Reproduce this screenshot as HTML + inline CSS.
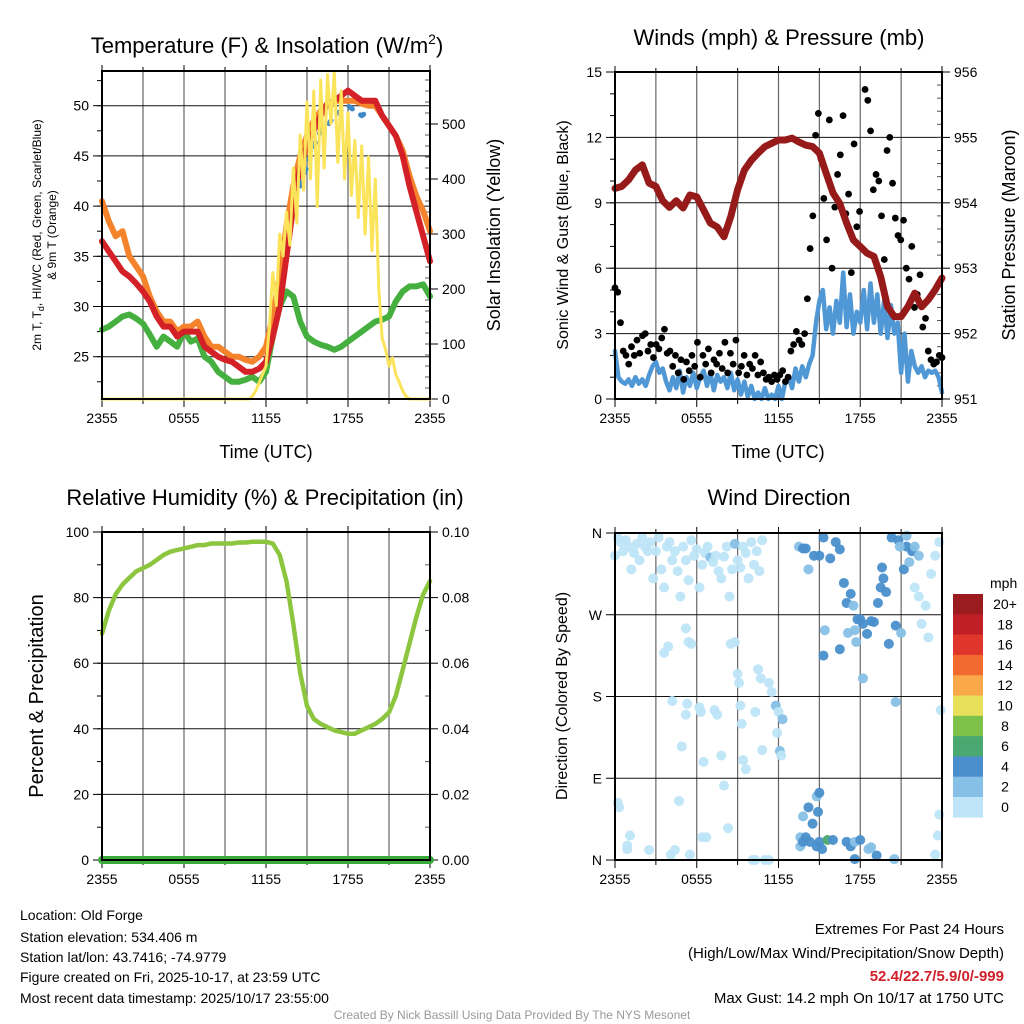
<!DOCTYPE html>
<html><head><meta charset="utf-8"><style>
html,body{margin:0;padding:0;background:#fff;}
svg{display:block;font-family:"Liberation Sans",Arial,sans-serif;}
</style></head><body>
<svg id="fig" width="1024" height="1024" viewBox="0 0 1024 1024">
<rect x="0" y="0" width="1024" height="1024" fill="#fff"/>
<text x="267" y="53" font-size="22" text-anchor="middle">Temperature (F) &amp; Insolation (W/m<tspan font-size="14" dy="-9">2</tspan><tspan dy="9">)</tspan></text>
<text x="779" y="45" font-size="22" text-anchor="middle">Winds (mph) &amp; Pressure (mb)</text>
<text x="265" y="505" font-size="22" text-anchor="middle">Relative Humidity (%) &amp; Precipitation (in)</text>
<text x="779" y="505" font-size="22" text-anchor="middle">Wind Direction</text>

<text x="266" y="458" font-size="18" text-anchor="middle">Time (UTC)</text>
<text x="778" y="458" font-size="18" text-anchor="middle">Time (UTC)</text>
<text transform="translate(41,235) rotate(-90)" font-size="12" text-anchor="middle">2m T, T<tspan font-size="9" dy="3">d</tspan><tspan dy="-3">, HI/WC (Red, Green, Scarlet/Blue)</tspan></text>
<text transform="translate(56,235) rotate(-90)" font-size="12" text-anchor="middle">&amp; 9m T (Orange)</text>
<text transform="translate(500,235) rotate(-90)" font-size="18" text-anchor="middle">Solar Insolation (Yellow)</text>
<text transform="translate(568,235) rotate(-90)" font-size="16" text-anchor="middle">Sonic Wind &amp; Gust (Blue, Black)</text>
<text transform="translate(1015,235) rotate(-90)" font-size="18" text-anchor="middle">Station Pressure (Maroon)</text>
<text transform="translate(43,696) rotate(-90)" font-size="20" text-anchor="middle">Percent &amp; Precipitation</text>
<text transform="translate(567,696) rotate(-90)" font-size="16" text-anchor="middle">Direction (Colored By Speed)</text>

<g font-size="14">
<text x="20" y="920">Location: Old Forge</text>
<text x="20" y="942">Station elevation: 534.406 m</text>
<text x="20" y="962">Station lat/lon: 43.7416; -74.9779</text>
<text x="20" y="982">Figure created on Fri, 2025-10-17, at 23:59 UTC</text>
<text x="20" y="1003">Most recent data timestamp: 2025/10/17 23:55:00</text>
</g>
<g font-size="15" text-anchor="end">
<text x="1004" y="934">Extremes For Past 24 Hours</text>
<text x="1004" y="958">(High/Low/Max Wind/Precipitation/Snow Depth)</text>
<text x="1004" y="981" fill="#d0202a" font-weight="bold">52.4/22.7/5.9/0/-999</text>
<text x="1004" y="1003">Max Gust: 14.2 mph On 10/17 at 1750 UTC</text>
</g>
<text x="512" y="1019" font-size="12" fill="#999" text-anchor="middle">Created By Nick Bassill Using Data Provided By The NYS Mesonet</text>
</svg>
<script>
// ---------- data ----------
const timeLabels = ["2355","0555","1155","1755","2355"];
const tempRed = [36.5,35.5,34.5,33.5,33,32.3,31.5,30.5,29,28,28,27,27.5,27.5,27.5,26,25.5,25,24.7,24.5,24,23.5,23.5,23.8,24.5,27,30,35,40,44,46,47.5,49,50.2,50.5,51,51.5,51,50.5,50.5,50.5,49,48,47,45,42,39.5,37,34.5];
const tempOrange = [40.5,38.5,37,37.5,35,34,33,31,29.5,28.5,28.5,27.5,28,28,28.5,27,26,26,25.5,25,25,24.7,24.5,25,26,29,33,38,42,45,47,48.5,49.5,50.2,50.5,50.5,50.5,50.5,50.2,50,50,49,48,47,45.5,43,41,39.5,37.5];
const tempGreen = [27.7,28,28.5,29,29.2,28.8,28.3,27.2,26,27,26.5,26,27.5,26.5,26.8,25,24.5,23.5,23,22.5,22.5,22.7,23,22.5,23.5,27,30,31.5,31,28.5,27,26.5,26.2,26,25.7,26,26.5,27,27.5,28,28.5,28.7,29,30.5,31.5,32,32,32.2,31];
const tempBlue = [null,null,null,null,null,null,null,null,null,null,null,null,null,null,null,null,null,null,null,null,null,null,null,null,null,null,null,null,null,42,44,46,47.5,48,49,49.5,50,49.5,49,49.5,null,null,null,null,null,null,null,null,null];
const solar = [0,0,0,0,0,0,0,0,0,0,0,0,0,0,0,0,0,0,0,0,0,0,0,0,0,0,0,0,0,0,0,0,0,0,0,0,0,0,0,0,0,0,0,0,5,15,30,45,60,130,230,170,300,260,340,280,420,320,480,380,540,400,560,350,580,420,590,500,593,430,560,400,520,370,470,330,460,300,440,270,400,200,110,90,60,75,45,30,15,5,0,0,0,0,0,0,0];
const windSpeed = [2.2,1.0,0.8,0.7,0.9,0.6,1.0,0.7,0.9,0.6,1.1,1.5,1.7,1.2,1.4,0.8,0.4,1.0,0.5,1.3,0.3,1.0,0.6,1.2,0.5,1.0,1.3,0.6,1.2,0.4,1.1,0.8,1.0,0.5,1.2,0.4,0.9,0.2,0.8,0.1,0.6,0.0,0.3,0.0,0.5,0.0,0.2,0.0,0.6,0.0,0.8,1.0,0.5,1.4,0.8,1.5,1.0,1.6,2.0,3.5,4.5,5.0,3.2,4.2,3.0,4.5,3.5,5.8,3.3,4.8,3.0,4.0,3.5,5.0,3.2,5.3,3.5,4.8,3.0,4.5,2.8,4.3,3.0,3.5,1.2,3.0,0.8,2.2,1.5,1.2,1.5,1.0,1.3,1.2,1.3,1.0,0.3];
const windGust = [5.1,4.9,3.5,2.2,2.0,1.6,2.4,2.0,2.7,2.1,2.9,3.0,2.2,2.5,1.9,2.5,2.3,2.8,3.2,2.1,2.2,1.5,2.0,1.2,1.8,0.9,1.7,1.3,2.0,1.5,2.6,1.0,2.0,1.6,2.3,1.2,1.8,1.6,2.1,1.4,2.6,1.2,2.1,1.6,2.7,1.2,1.5,2.0,1.1,1.6,1.4,2.0,1.1,1.7,1.2,0.9,1.0,0.8,1.1,0.9,1.1,1.3,0.8,1.0,2.2,2.5,3.1,2.7,2.5,3.0,4.6,6.9,8.4,12.1,13.1,11.0,9.2,7.3,12.8,6.0,8.8,10.3,11.2,13.0,8.5,9.4,5.8,11.7,7.9,8.6,6.9,14.2,13.7,12.3,9.6,10.3,10.0,8.4,6.4,11.4,12.0,9.9,8.3,7.5,7.3,8.2,6.0,5.5,7.0,4.2,4.8,5.7,3.3,3.7,2.2,1.8,1.6,1.7,2.0,1.9];
const pressure = [954.22,954.25,954.35,954.5,954.58,954.3,954.25,954.03,953.93,954.03,953.92,954.12,954.09,953.89,953.69,953.63,953.48,953.79,954.2,954.5,954.65,954.76,954.86,954.91,954.96,954.96,954.99,954.93,954.88,954.86,954.76,954.45,954.15,953.99,953.69,953.43,953.33,953.23,953.18,952.87,952.41,952.26,952.26,952.41,952.62,952.41,952.52,952.67,952.85];
const rh = [69,76,81,84,86,88,89,90,91.5,93,94,94.5,95,95.5,96,96,96.5,96.5,96.5,96.5,96.8,96.8,97,97,97,96.5,93,85,72,57,47,43,41.5,40.5,39.5,39,38.5,38.5,39.5,40.5,41.5,43,45,50,58,66,74,81,85];
const precip = [0,0,0,0,0,0,0,0,0,0,0,0,0];
const dirHour = [0.0,0.2,0.4,0.6,0.8,1.0,1.2,1.4,1.6,1.8,2.0,2.2,2.4,2.6,2.8,3.0,3.2,3.4,3.6,3.8,4.0,4.2,4.4,4.6,4.8,5.0,5.2,5.4,5.6,5.8,6.0,6.2,6.4,6.6,6.8,7.0,7.2,7.4,7.6,7.8,8.0,8.2,8.4,8.6,8.8,9.0,9.2,9.4,9.6,9.8,10.0,10.2,10.4,10.6,10.8,
3.6,3.9,4.2,5.2,5.4,5.6,5.3,5.2,6.3,6.2,7.3,7.5,8.5,8.8,9.0,9.1,9.2,9.3,10.3,10.5,10.7,11.3,11.5,11.8,12.0,12.3,11.9,12.1,12.2,6.5,7.8,9.4,9.6,10.8,4.9,8.0,4.7,0.2,0.3,1.1,0.9,0.9,2.5,4.1,4.4,6.4,6.7,5.5,8.3,10.1,10.3,11.0,11.3,
13.5,13.8,14.0,14.2,14.6,15.0,15.3,15.8,16.2,16.5,16.8,17.0,17.3,17.5,17.8,18.0,18.2,17.1,17.6,17.7,18.5,18.8,19.0,19.3,19.5,19.6,19.7,19.9,20.1,20.6,21.0,20.3,20.8,21.4,21.8,21.2,21.4,22.0,22.3,21.6,18.2,15.3,15.4,16.5,20.6,20.9,
22.0,22.3,22.8,23.2,23.5,23.8,23.0,22.5,23.9,23.8,23.7,23.5,
13.6,13.6,13.8,14.0,14.3,14.5,14.8,15.0,15.2,15.6,16.0,17.0,17.3,17.6,18.0,18.6,18.8,19.2,20.5,14.8,15.0,14.2,13.8,14.9,17.6];
const dirDeg = [335,355,350,340,352,345,320,338,348,330,355,345,340,350,310,340,355,320,300,345,350,330,340,318,290,345,330,308,352,335,342,300,325,338,345,333,328,335,318,310,334,345,290,320,348,330,322,345,338,310,350,325,340,318,352,
228,235,175,255,240,238,172,160,163,168,165,160,238,240,205,195,170,150,163,210,200,195,185,170,163,155,140,120,115,108,115,110,100,121,125,82,65,63,58,27,16,12,11,6,11,25,25,6,35,0,0,0,0,
345,343,343,320,335,335,355,332,350,342,305,283,293,280,265,265,260,250,253,240,249,263,262,283,300,322,310,295,238,258,250,355,352,345,340,320,357,345,335,328,200,225,253,232,174,345,
300,290,280,315,335,350,245,260,165,50,27,6,
15,25,20,25,20,40,15,20,12,22,22,20,15,20,22,12,14,5,1,70,74,58,48,53,1];
const dirSpeed = [1,1,1,1,1,1,1,1,1,1,1,1,1,1,1,1,1,1,1,1,1,1,1,1,1,1,1,1,1,1,1,1,1,1,1,3,1,1,1,1,1,1,1,1,3,1,1,1,1,1,1,1,1,1,1,
1,1,1,1,1,1,1,1,1,1,1,1,1,1,1,1,1,1,1,1,1,1,1,3,1,3,1,3,1,1,1,1,1,1,1,1,1,1,1,1,1,1,1,1,1,1,1,1,1,1,1,1,1,
3,5,5,3,5,5,5,5,5,5,5,5,5,3,5,5,5,3,3,3,5,5,5,5,5,5,5,5,5,5,3,5,5,5,5,5,3,3,3,3,3,5,3,5,3,3,
1,1,1,1,1,1,1,1,1,1,1,1,
3,3,5,5,5,5,5,5,5,7,5,5,5,3,5,3,3,5,3,3,5,5,3,5,5];
const speedBins = ["0","2","4","6","8","10","12","14","16","18","20+"];
const speedColors = ["#bde5f7","#86c0e6","#4a8fcb","#4aa870","#7dc24a","#e8e05a","#f9a94a","#f26a30","#e0352a","#c01f26","#9b1b1e"];

// ---------- helpers ----------
const NS = "http://www.w3.org/2000/svg";
const fig = document.getElementById("fig");
function el(tag, attrs, parent){ const e=document.createElementNS(NS,tag); for(const k in attrs) e.setAttribute(k,attrs[k]); (parent||fig).appendChild(e); return e; }
function lin(d0,d1,r0,r1){ return v => r0+(v-d0)/(d1-d0)*(r1-r0); }

function frame(name,x0,x1,y0,y1,yTicks,ysc,yLabels,yMinor){
  const g=el("g",{});
  
  
  for(let k=1;k<8;k++){ const x=x0+(x1-x0)*k/8;
    const l=el("line",{x1:x,x2:x,y1:y0,y2:y1,stroke:"#333","stroke-width":1.2,"stroke-opacity":0.75},g);
    
     }
  yTicks.forEach((t,i)=>{ const y=ysc(t);
    const l=el("line",{x1:x0,x2:x1,y1:y,y2:y,stroke:"#111","stroke-width":1},g);
    
    
    el("line",{x1:x0-9,x2:x0,y1:y,y2:y,stroke:"#000","stroke-width":1},g);
    const tx=el("text",{x:x0-13,y:y+5,"font-size":14,"text-anchor":"end"},g); tx.textContent=yLabels[i];
    
     });
  if(yMinor) yMinor.forEach(t=>{const y=ysc(t); el("line",{x1:x0-5,x2:x0,y1:y,y2:y,stroke:"#000","stroke-width":1},g);});
  for(let k=0;k<=8;k++){ const x=x0+(x1-x0)*k/8; el("line",{x1:x,x2:x,y1:y1,y2:y1+(k%2?5:8),stroke:"#000"},g); el("line",{x1:x,x2:x,y1:y0,y2:y0-(k%2?4:6),stroke:"#000"},g);}
  timeLabels.forEach((lab,i)=>{ const x=x0+(x1-x0)*i/4;
    const tx=el("text",{x:x,y:y1+24,"font-size":14,"text-anchor":"middle"},g); tx.textContent=lab;
    
     });
  return g;
}
function border(x0,x1,y0,y1){ const r=el("rect",{x:x0,y:y0,width:x1-x0,height:y1-y0,fill:"none",stroke:"#000","stroke-width":2});
  
   }
function rightAxis(x1,ticks,sc,labels,minor){
  ticks.forEach((t,i)=>{ const y=sc(t); el("line",{x1:x1,x2:x1+8,y1:y,y2:y,stroke:"#000"});
    const tx=el("text",{x:x1+12,y:y+5,"font-size":14},fig); tx.textContent=labels[i];
    
     });
  if(minor) minor.forEach(t=>{const y=sc(t); el("line",{x1:x1-5,x2:x1,y1:y,y2:y,stroke:"#555"});});
}
function path(arr,xs,ys,style,name){
  let d="",pen=false; arr.forEach((v,i)=>{ if(v===null){pen=false;return;} d+=(pen?"L":"M")+xs(i).toFixed(1)+","+ys(v).toFixed(1); pen=true;});
  const p=el("path",Object.assign({d:d,fill:"none","stroke-linejoin":"round","stroke-linecap":"round"},style));
  
  
  return p;
}
const rng=(a,b,s)=>{const r=[];for(let v=a;v<=b+1e-9;v+=s)r.push(+v.toFixed(3));return r;};

// ---------- panel 1: temperature ----------
{ const x0=102,x1=430,y0=71,y1=399;
  const ys=lin(25,50,356.7,105.7), ysr=lin(0,500,399,124);
  frame("temperature-panel",x0,x1,y0,y1,[25,30,35,40,45,50],ys,["25","30","35","40","45","50"],rng(22.5,52.5,2.5));
  rightAxis(x1,[0,100,200,300,400,500],ysr,["0","100","200","300","400","500"],rng(20,580,20));
  const xi=n=>i=>x0+(x1-x0)*i/(n-1);
  path(tempGreen,xi(tempGreen.length),ys,{stroke:"#45b03f","stroke-width":6},"dewpoint-line");
  path(tempOrange,xi(tempOrange.length),ys,{stroke:"#f4832b","stroke-width":6},"9m-temperature-line");
  path(tempRed,xi(tempRed.length),ys,{stroke:"#d42027","stroke-width":6},"2m-temperature-line");
  path(tempBlue,xi(tempBlue.length),ys,{stroke:"#4089c8","stroke-width":5,"stroke-dasharray":"4 10"},"heat-index-line");
  path(solar,xi(solar.length),ysr,{stroke:"#fbe35a","stroke-width":3},"solar-insolation-line");
  border(x0,x1,y0,y1);
}
// ---------- panel 2: winds ----------
{ const x0=615,x1=942,y0=72,y1=399;
  const ys=lin(0,15,399,72), ysp=lin(951,956,399,72);
  frame("winds-panel",x0,x1,y0,y1,[0,3,6,9,12,15],ys,["0","3","6","9","12","15"],rng(1,14,1));
  rightAxis(x1,[951,952,953,954,955,956],ysp,["951","952","953","954","955","956"],rng(951.2,955.8,0.2));
  const xi=n=>i=>x0+(x1-x0)*i/(n-1);
  path(windSpeed,xi(windSpeed.length),ys,{stroke:"#4f98d5","stroke-width":4.5},"sonic-wind-line");
  const gx=xi(windGust.length);
  windGust.forEach((v,i)=>{ const c=el("circle",{cx:gx(i),cy:ys(v),r:3.4,fill:"#000"});
    
     });
  path(pressure,xi(pressure.length),ysp,{stroke:"#961a1a","stroke-width":7},"pressure-line");
  border(x0,x1,y0,y1);
}
// ---------- panel 3: humidity ----------
{ const x0=102,x1=430,y0=532,y1=860;
  const ys=lin(0,100,860,532), ysr=lin(0,0.1,860,532);
  frame("humidity-panel",x0,x1,y0,y1,[0,20,40,60,80,100],ys,["0","20","40","60","80","100"],rng(10,90,10));
  rightAxis(x1,[0,0.02,0.04,0.06,0.08,0.1],ysr,["0.00","0.02","0.04","0.06","0.08","0.10"],rng(0.01,0.09,0.01));
  const xi=n=>i=>x0+(x1-x0)*i/(n-1);
  path(rh,xi(rh.length),ys,{stroke:"#8cc63f","stroke-width":4.5},"relative-humidity-line");
  path(precip,xi(precip.length),ysr,{stroke:"#3aaa3a","stroke-width":8},"precipitation-line");
  border(x0,x1,y0,y1);
}
// ---------- panel 4: wind direction ----------
{ const x0=615,x1=942,y0=533,y1=860;
  const ys=lin(0,360,860,533), xs=lin(0,24,x0,x1);
  frame("wind-direction-panel",x0,x1,y0,y1,[0,90,180,270,360],ys,["N","E","S","W","N"],null);
  dirHour.forEach((h,i)=>{ const s=dirSpeed[i]; const b=Math.min(10,Math.floor(s/2));
    const c=el("circle",{cx:xs(h),cy:ys(dirDeg[i]),r:5,fill:speedColors[b],"fill-opacity":0.95});
    
     });
  border(x0,x1,y0,y1);
  const lg=el("g",{});
  
  
  const t=el("text",{x:990,y:588,"font-size":14},lg); t.textContent="mph";
  const n=speedBins.length, top=594, h=20.3;
  for(let k=0;k<n;k++){ const idx=n-1-k; const y=top+k*h;
    const r=el("rect",{x:953,y:y,width:30,height:h+0.3,fill:speedColors[idx]},lg);
    
    
    const tx=el("text",{x:1005,y:y+15,"font-size":14,"text-anchor":"middle"},lg); tx.textContent=speedBins[idx];
    
     }
}
</script>
</body></html>
